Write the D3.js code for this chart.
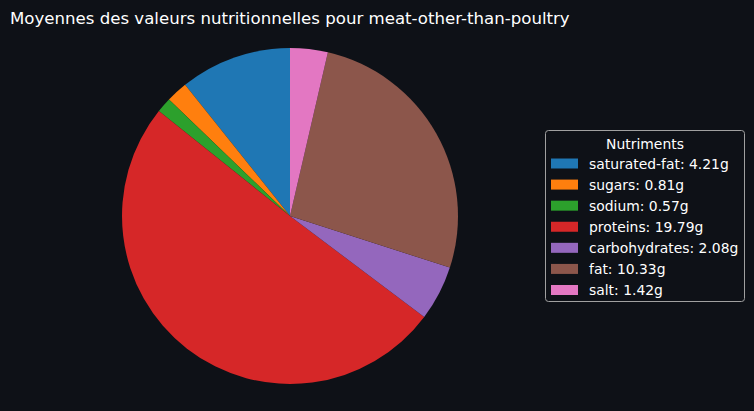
<!DOCTYPE html>
<html><head><meta charset="utf-8">
<script src="https://cdn.jsdelivr.net/npm/d3@7"></script>
<style>html,body{margin:0;padding:0;background:#0e1117;}svg{display:block;}</style>
</head><body>
<script>
const categories = ["saturated-fat","sugars","sodium","proteins","carbohydrates","fat","salt"];
const values = [4.21,0.81,0.57,19.79,2.08,10.33,1.42];
const colors = ["#1f77b4","#ff7f0e","#2ca02c","#d62728","#9467bd","#8c564b","#e377c2"];
const title = "Moyennes des valeurs nutritionnelles pour meat-other-than-poultry";
const legendTitle = "Nutriments";

const W = 754, H = 411;
const svg = d3.select("body").append("svg").attr("width", W).attr("height", H);
svg.append("rect").attr("width", W).attr("height", H).attr("fill", "#0e1117");

svg.append("text").attr("x", 10).attr("y", 24)
  .attr("font-family", "DejaVu Sans").attr("font-size", 16.6).attr("fill", "#ffffff")
  .text(title);

const cx = 290, cy = 216, r = 168;
const pie = d3.pie().sort(null).startAngle(0).endAngle(-2 * Math.PI);
const arcs = pie(values);
const arc = d3.arc().innerRadius(0).outerRadius(r);
const color = d3.scaleOrdinal().domain(categories).range(colors);
const g = svg.append("g").attr("transform", `translate(${cx},${cy})`);
g.selectAll("path").data(arcs).join("path")
  .attr("d", arc)
  .attr("fill", (d, i) => color(categories[i]));

// legend
const lx = 545.5, ly = 130.5, lw = 199, lh = 171;
const lg = svg.append("g");
lg.append("rect").attr("x", lx).attr("y", ly).attr("width", lw).attr("height", lh)
  .attr("rx", 3).attr("fill", "#0e1117").attr("stroke", "#a0a0a0").attr("stroke-width", 1);
lg.append("text").attr("x", lx + lw / 2).attr("y", 148.5).attr("text-anchor", "middle")
  .attr("font-family", "DejaVu Sans").attr("font-size", 13.9).attr("fill", "#ffffff")
  .text(legendTitle);
const rowY = d3.scaleLinear().domain([0, categories.length - 1]).range([163.5, 290]);
categories.forEach((c, i) => {
  const y = rowY(i);
  lg.append("rect").attr("x", 551).attr("y", y - 5).attr("width", 27).attr("height", 10)
    .attr("fill", color(c));
  lg.append("text").attr("x", 589).attr("y", y + 5)
    .attr("font-family", "DejaVu Sans").attr("font-size", 13.9).attr("fill", "#ffffff")
    .text(`${c}: ${values[i].toFixed(2)}g`);
});
</script>
</body></html>
